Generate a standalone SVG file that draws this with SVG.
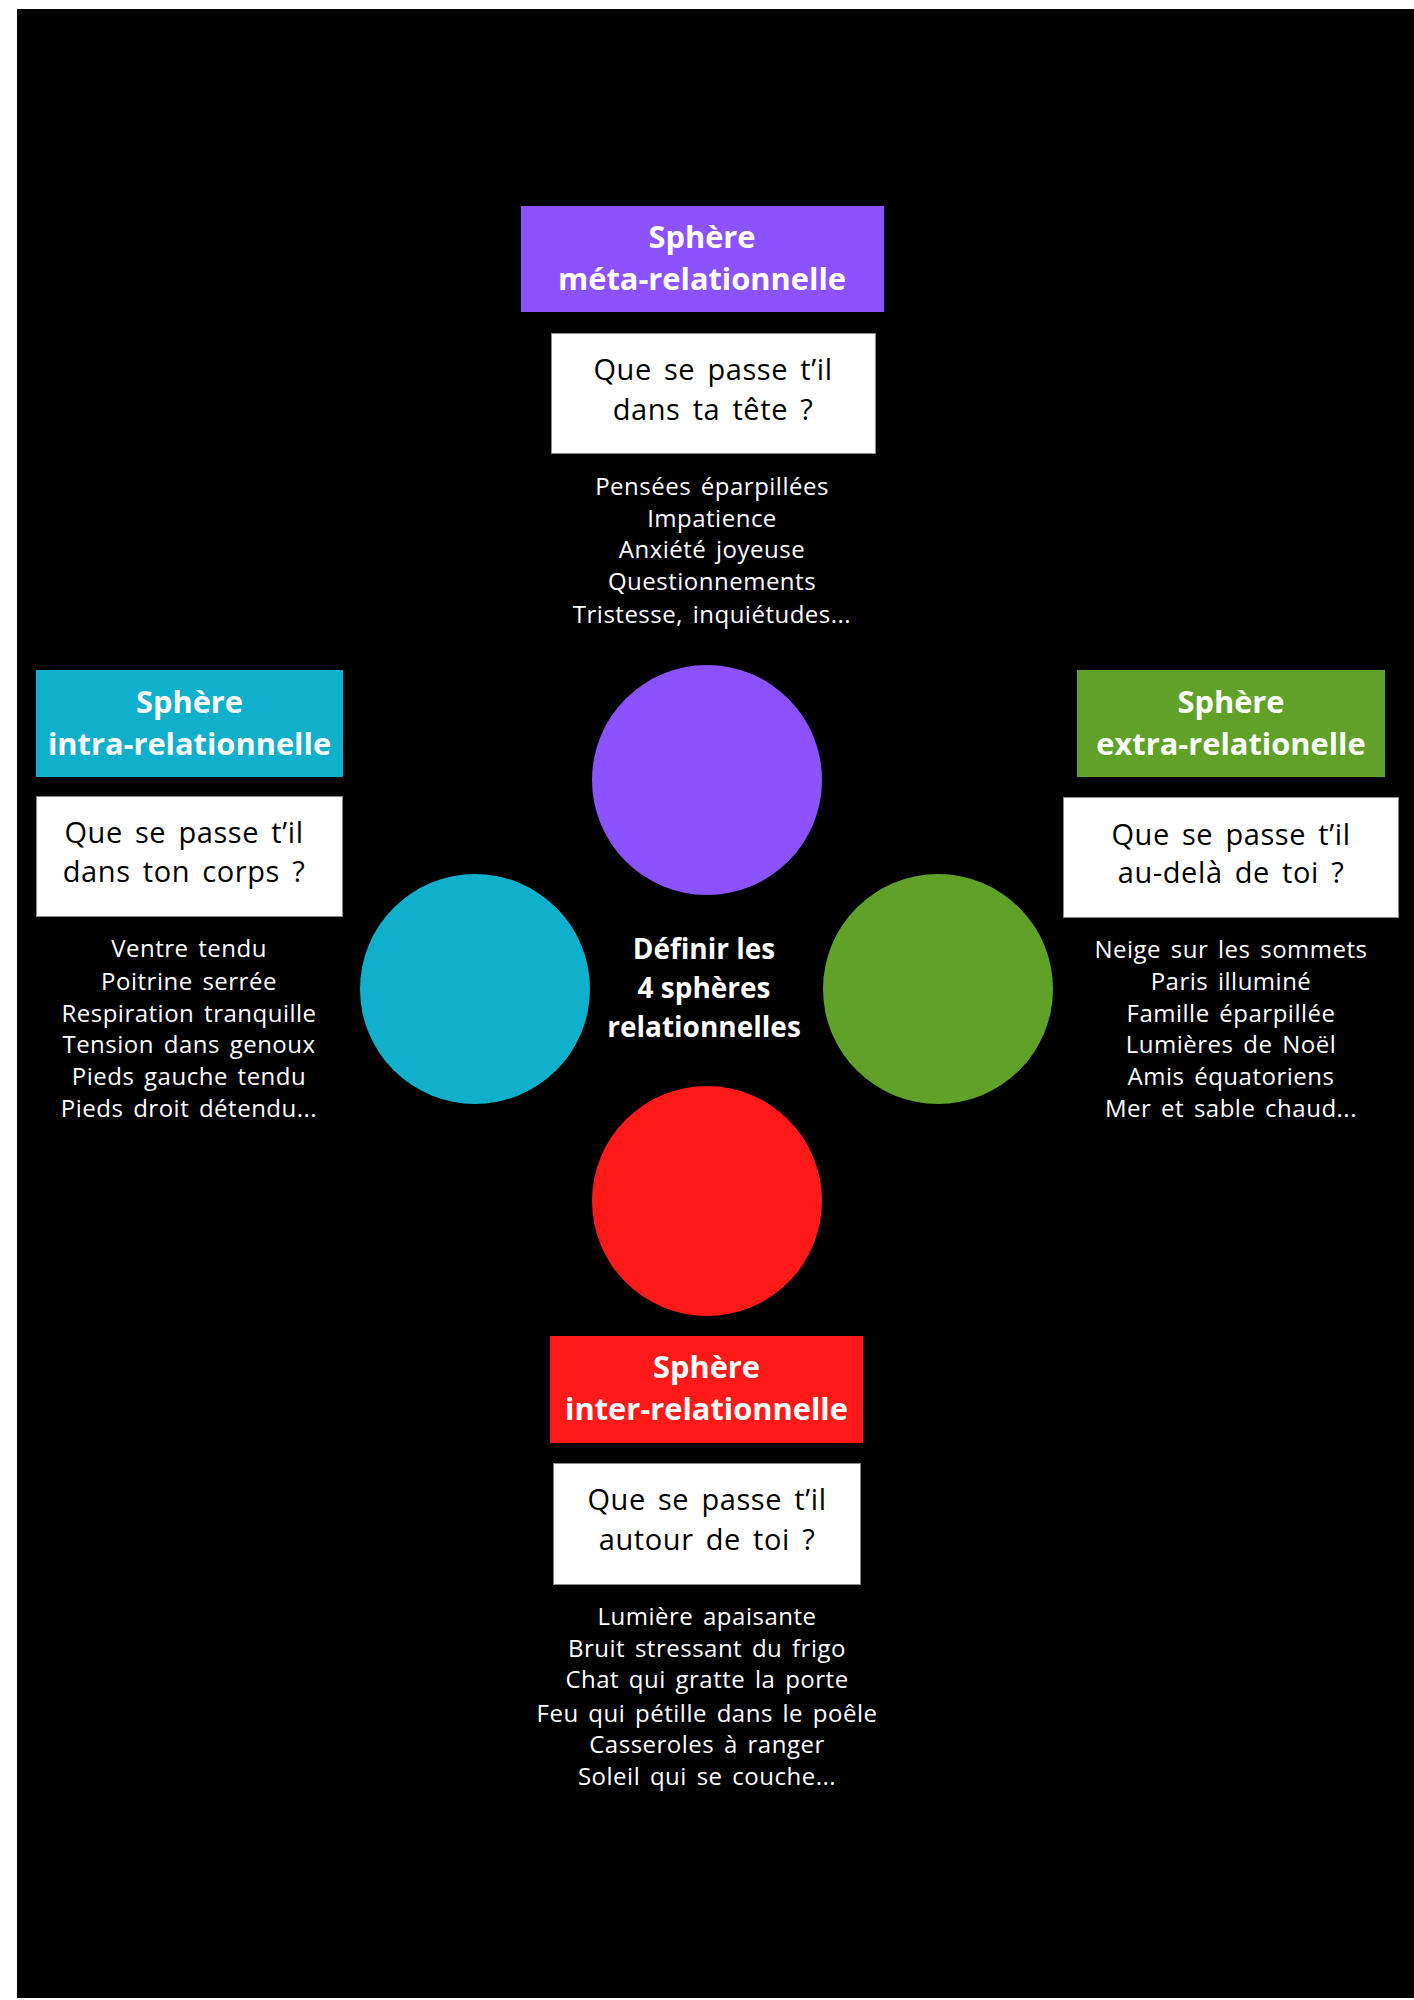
<svg xmlns="http://www.w3.org/2000/svg" width="1414" height="2000" viewBox="0 0 1414 2000">
<style>
.title{font-family:"Open Sans","Noto Sans",sans-serif;font-weight:700;font-size:30.8px;fill:#ffffff;text-anchor:middle}
.q{font-family:"Open Sans","Noto Sans",sans-serif;font-weight:400;font-size:29px;letter-spacing:0.6px;word-spacing:4px;fill:#000000;text-anchor:middle}
.item{font-family:"Open Sans","Noto Sans",sans-serif;font-weight:400;font-size:24px;letter-spacing:0.5px;word-spacing:3px;fill:#ffffff;text-anchor:middle}
.center{font-family:"Open Sans","Noto Sans",sans-serif;font-weight:700;font-size:28px;fill:#ffffff;text-anchor:middle}
.qbox{fill:#ffffff;stroke:#8a8a8a;stroke-width:1}
</style>
<rect x="0" y="0" width="1414" height="2000" fill="#ffffff"/>
<rect x="17" y="9" width="1397" height="1989" fill="#000000"/>
<g id="connectors"></g>
<g id="center">
<text class="center" x="704" y="959">Définir les</text>
<text class="center" x="704" y="998">4 sphères</text>
<text class="center" x="704" y="1037">relationnelles</text>
</g>
<g id="circle-meta"><circle cx="707" cy="780" r="115" fill="#8c52ff"/></g>
<g id="circle-intra"><circle cx="475" cy="989" r="115" fill="#10afcb"/></g>
<g id="circle-extra"><circle cx="938" cy="989" r="115" fill="#5fa227"/></g>
<g id="circle-inter"><circle cx="707" cy="1201" r="115" fill="#ff1a1a"/></g>
<g id="meta">
<rect x="521" y="206" width="363" height="106" fill="#8c52ff"/>
<text class="title" x="702" y="248">Sphère</text>
<text class="title" x="702" y="290">méta-relationnelle</text>
<rect class="qbox" x="551.5" y="333.5" width="324" height="120"/>
<text class="q" x="713" y="380">Que se passe t’il</text>
<text class="q" x="713" y="420">dans ta tête ?</text>
<text class="item" x="712" y="495">Pensées éparpillées</text>
<text class="item" x="712" y="527">Impatience</text>
<text class="item" x="712" y="558">Anxiété joyeuse</text>
<text class="item" x="712" y="590">Questionnements</text>
<text class="item" x="712" y="623">Tristesse, inquiétudes...</text>
</g>
<g id="intra">
<rect x="36" y="670" width="307" height="107" fill="#10afcb"/>
<text class="title" x="189.5" y="713">Sphère</text>
<text class="title" x="189.5" y="755">intra-relationnelle</text>
<rect class="qbox" x="36.5" y="796.5" width="306" height="120"/>
<text class="q" x="184" y="843">Que se passe t’il</text>
<text class="q" x="184" y="882">dans ton corps ?</text>
<text class="item" x="189" y="957">Ventre tendu</text>
<text class="item" x="189" y="990">Poitrine serrée</text>
<text class="item" x="189" y="1022">Respiration tranquille</text>
<text class="item" x="189" y="1053">Tension dans genoux</text>
<text class="item" x="189" y="1085">Pieds gauche tendu</text>
<text class="item" x="189" y="1117">Pieds droit détendu...</text>
</g>
<g id="extra">
<rect x="1077" y="670" width="308" height="107" fill="#5fa227"/>
<text class="title" x="1231" y="713">Sphère</text>
<text class="title" x="1231" y="755">extra-relationelle</text>
<rect class="qbox" x="1063.5" y="797.5" width="335" height="120"/>
<text class="q" x="1231" y="845">Que se passe t’il</text>
<text class="q" x="1231" y="883">au-delà de toi ?</text>
<text class="item" x="1231" y="958">Neige sur les sommets</text>
<text class="item" x="1231" y="990">Paris illuminé</text>
<text class="item" x="1231" y="1022">Famille éparpillée</text>
<text class="item" x="1231" y="1053">Lumières de Noël</text>
<text class="item" x="1231" y="1085">Amis équatoriens</text>
<text class="item" x="1231" y="1117">Mer et sable chaud...</text>
</g>
<g id="inter">
<rect x="550" y="1336" width="313" height="107" fill="#ff1a1a"/>
<text class="title" x="706.5" y="1378">Sphère</text>
<text class="title" x="706.5" y="1420">inter-relationnelle</text>
<rect class="qbox" x="553.5" y="1463.5" width="307" height="121"/>
<text class="q" x="707" y="1510">Que se passe t’il</text>
<text class="q" x="707" y="1550">autour de toi ?</text>
<text class="item" x="707" y="1625">Lumière apaisante</text>
<text class="item" x="707" y="1657">Bruit stressant du frigo</text>
<text class="item" x="707" y="1688">Chat qui gratte la porte</text>
<text class="item" x="707" y="1722">Feu qui pétille dans le poêle</text>
<text class="item" x="707" y="1753">Casseroles à ranger</text>
<text class="item" x="707" y="1785">Soleil qui se couche...</text>
</g>
</svg>
